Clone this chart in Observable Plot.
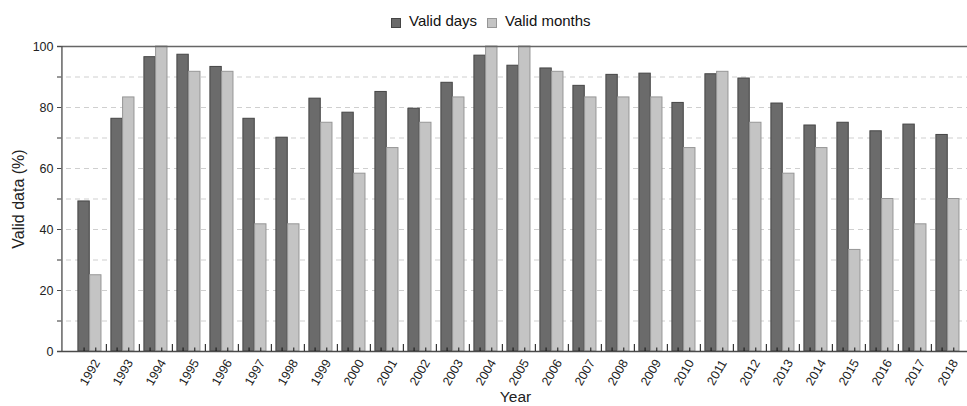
<!DOCTYPE html>
<html>
<head>
<meta charset="utf-8">
<script src="https://cdn.jsdelivr.net/npm/d3@7"></script>
<script src="https://cdn.jsdelivr.net/npm/@observablehq/plot@0.6"></script>
<style>
  body { margin: 0; background: #fff; font-family: "Liberation Sans", Arial, Helvetica, sans-serif; }
  #legend { position: relative; width: 967px; height: 36px; font-size: 15px; color: #111; }
  #legend .sw { position: absolute; top: 18px; width: 8px; height: 8px; border: 1px solid; }
  #legend .lbl { position: absolute; top: 12px; line-height: 17px; white-space: nowrap; }
  #chart svg { display: block; }
</style>
</head>
<body>
<div id="legend"></div>
<div id="chart"></div>
<script>
// Share of valid data per year
const years = [1992, 1993, 1994, 1995, 1996, 1997, 1998, 1999, 2000, 2001, 2002, 2003, 2004, 2005,
               2006, 2007, 2008, 2009, 2010, 2011, 2012, 2013, 2014, 2015, 2016, 2017, 2018];
const validDays = [49.2, 76.3, 96.5, 97.3, 93.3, 76.3, 70.1, 82.9, 78.3, 85.1, 79.6, 88.1, 97.0, 93.7,
                   92.8, 87.1, 90.7, 91.1, 81.5, 90.9, 89.5, 81.3, 74.1, 75.0, 72.2, 74.4, 71.0];
const validMonths = [25, 83.3, 100, 91.7, 91.7, 41.7, 41.7, 75, 58.3, 66.7, 75, 83.3, 100, 100,
                     91.7, 83.3, 83.3, 83.3, 66.7, 91.7, 75, 58.3, 66.7, 33.3, 50, 41.7, 50];
const seriesNames = ["Valid days", "Valid months"];
const yLabelTicks = [0, 20, 40, 60, 80, 100];
const yMinorTicks = [0, 10, 20, 30, 40, 50, 60, 70, 80, 90, 100];
const gridValues = [10, 20, 30, 40, 50, 60, 70, 80, 90];

const fills = ["#6b6b6b", "#c4c4c4"];
const strokes = ["#454545", "#969696"];

const daysRows = years.map((year, i) => ({year, series: seriesNames[0], value: validDays[i]}));
const monthsRows = years.map((year, i) => ({year, series: seriesNames[1], value: validMonths[i]}));

// layout
const W = 967, H = 370;
const mL = 57, mR = 0, mT = 10, mB = 55;
const frameW = W - mL - mR, frameH = H - mT - mB;
const xRange = [68.4, 968.3];
const band = (xRange[1] - xRange[0]) / years.length;
const barLeftInset = 4.9, barW = 11.7;

// legend
const legend = document.getElementById("legend");
[[391, 409], [487, 505]].forEach(([sx, tx], i) => {
  const sw = document.createElement("div");
  sw.className = "sw";
  sw.style.left = sx + "px";
  sw.style.background = fills[i];
  sw.style.borderColor = strokes[i];
  legend.appendChild(sw);
  const t = document.createElement("div");
  t.className = "lbl";
  t.style.left = tx + "px";
  t.textContent = seriesNames[i];
  legend.appendChild(t);
});

const axisColor = "#4a4a4a";

const chart = Plot.plot({
  width: W,
  height: H,
  marginLeft: mL,
  marginRight: mR,
  marginTop: mT,
  marginBottom: mB,
  style: {fontFamily: "'Liberation Sans', Arial, Helvetica, sans-serif", fontSize: "12.5px", color: "#222", background: "#fff"},
  x: {type: "band", domain: years, range: xRange, padding: 0, axis: null},
  y: {domain: [0, 100], axis: null},
  marks: [
    // dashed grid
    Plot.ruleY(gridValues, {stroke: "#cfcfcf", strokeWidth: 1, strokeDasharray: "5,4"}),
    // bars
    Plot.barY(daysRows, {x: "year", y: "value", fill: fills[0], stroke: strokes[0], strokeWidth: 1,
      insetLeft: barLeftInset, insetRight: band - barLeftInset - barW}),
    Plot.barY(monthsRows, {x: "year", y: "value", fill: fills[1], stroke: strokes[1], strokeWidth: 1,
      insetLeft: barLeftInset + barW, insetRight: band - barLeftInset - 2 * barW}),
    // frame: top, bottom, left
    Plot.ruleY([100], {stroke: "#666", strokeWidth: 1.3}),
    Plot.ruleY([0], {stroke: axisColor, strokeWidth: 1.3}),
    Plot.tickX([years[0]], {x: d => d, dx: mL - xRange[0] - band / 2, stroke: axisColor, strokeWidth: 1.3}),
    // y ticks pointing inward
    Plot.tickY(yMinorTicks, {y: d => d, stroke: axisColor, insetRight: frameW - 4}),
    // x ticks: group separators and bar centres
    Plot.tickX(years.slice(1), {x: d => d, dx: -band / 2, stroke: "#111", insetTop: frameH - 7}),
    Plot.tickX(years, {x: d => d, dx: barLeftInset + barW / 2 - band / 2, stroke: "#111", insetTop: frameH - 3.5}),
    Plot.tickX(years, {x: d => d, dx: barLeftInset + 1.5 * barW - band / 2, stroke: "#111", insetTop: frameH - 3.5}),
    // y tick labels
    Plot.text(yLabelTicks, {y: d => d, text: d => String(d), frameAnchor: "left", textAnchor: "end", dx: -4, fill: "#222"}),
    // x tick labels
    Plot.text(years, {x: d => d, text: d => String(d), frameAnchor: "bottom", dy: 21, rotate: -60,
      textAnchor: "middle", lineAnchor: "middle", fill: "#222"}),
    // axis titles
    Plot.text(["Valid data (%)"], {text: d => d, frameAnchor: "left", dx: -38.5, rotate: -90,
      textAnchor: "middle", lineAnchor: "middle", fontSize: 16, fill: "#222"}),
    Plot.text(["Year"], {text: d => d, frameAnchor: "bottom", dx: 3, dy: 46, lineAnchor: "middle",
      fontSize: 15.5, fill: "#222"})
  ]
});
document.getElementById("chart").appendChild(chart);
</script>
</body>
</html>
